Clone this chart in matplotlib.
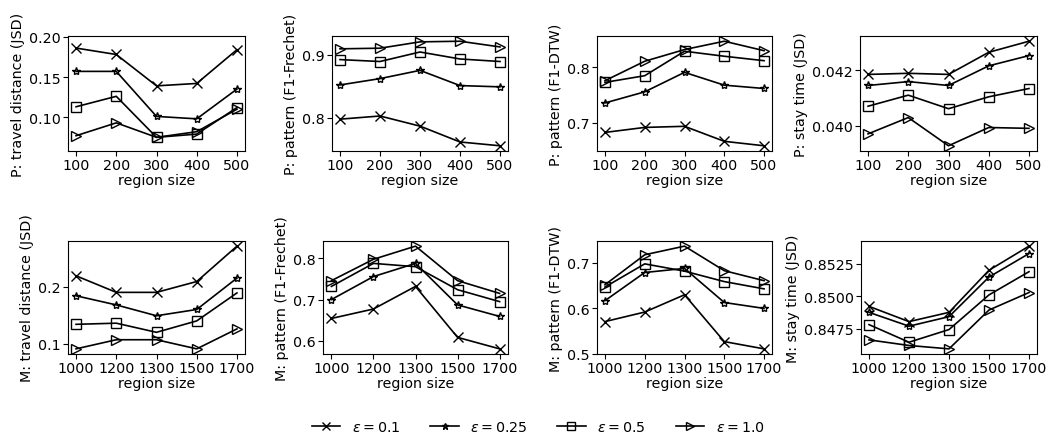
import matplotlib.pyplot as plt
from matplotlib.ticker import MultipleLocator

# region sizes
p_sizes = ['100', '200', '300', '400', '500']
m_sizes = ['1000', '1200', '1300', '1500', '1700']

eps_labels = [r'$\varepsilon = 0.1$', r'$\varepsilon = 0.25$', r'$\varepsilon = 0.5$', r'$\varepsilon = 1.0$']
markers = ['x', '*', 's', '>']

# P dataset (rows: eps 0.1, 0.25, 0.5, 1.0)
p_travel = [[0.186, 0.178, 0.139, 0.142, 0.184],
            [0.157, 0.157, 0.101, 0.098, 0.135],
            [0.113, 0.126, 0.075, 0.079, 0.112],
            [0.077, 0.093, 0.075, 0.082, 0.110]]
p_frechet = [[0.798, 0.803, 0.787, 0.762, 0.756],
             [0.852, 0.862, 0.875, 0.851, 0.849],
             [0.892, 0.889, 0.904, 0.893, 0.889],
             [0.909, 0.910, 0.920, 0.921, 0.912]]
p_dtw = [[0.683, 0.692, 0.694, 0.667, 0.659],
         [0.736, 0.756, 0.791, 0.768, 0.762],
         [0.773, 0.785, 0.829, 0.820, 0.812],
         [0.776, 0.811, 0.832, 0.847, 0.830]]
p_stay = [[0.04185, 0.04189, 0.04185, 0.04265, 0.04305],
          [0.04145, 0.04159, 0.04145, 0.04216, 0.04253],
          [0.04070, 0.04110, 0.04061, 0.04104, 0.04134],
          [0.03970, 0.04029, 0.03927, 0.03993, 0.03990]]

# M dataset
m_travel = [[0.219, 0.190, 0.190, 0.209, 0.271],
            [0.184, 0.168, 0.149, 0.160, 0.215],
            [0.134, 0.136, 0.120, 0.140, 0.189],
            [0.091, 0.107, 0.107, 0.091, 0.126]]
m_frechet = [[0.654, 0.677, 0.732, 0.608, 0.580],
             [0.700, 0.756, 0.788, 0.687, 0.659],
             [0.732, 0.788, 0.780, 0.724, 0.695],
             [0.746, 0.798, 0.830, 0.746, 0.715]]
m_dtw = [[0.571, 0.592, 0.630, 0.527, 0.511],
         [0.617, 0.679, 0.688, 0.613, 0.600],
         [0.647, 0.698, 0.682, 0.659, 0.643],
         [0.652, 0.718, 0.737, 0.683, 0.661]]
m_stay = [[0.84922, 0.84805, 0.84876, 0.85199, 0.85384],
          [0.84876, 0.84770, 0.84843, 0.85147, 0.85327],
          [0.84782, 0.84647, 0.84744, 0.85010, 0.85188],
          [0.84665, 0.84622, 0.84596, 0.84894, 0.85028]]

panels = [
    (p_sizes, p_travel, 'P: travel distance (JSD)'),
    (p_sizes, p_frechet, 'P: pattern (F1-Frechet)'),
    (p_sizes, p_dtw, 'P: pattern (F1-DTW)'),
    (p_sizes, p_stay, 'P: stay time (JSD)'),
    (m_sizes, m_travel, 'M: travel distance (JSD)'),
    (m_sizes, m_frechet, 'M: pattern (F1-Frechet)'),
    (m_sizes, m_dtw, 'M: pattern (F1-DTW)'),
    (m_sizes, m_stay, 'M: stay time (JSD)'),
]
ytick_steps = [0.05, 0.1, 0.1, 0.002, 0.1, 0.1, 0.1, 0.0025]

plt.rcParams['font.size'] = 10.3
plt.rcParams['xtick.labelsize'] = 10.3
plt.rcParams['ytick.labelsize'] = 10.3
plt.rcParams['xtick.major.pad'] = 1.5
plt.rcParams['ytick.major.pad'] = 1.5

W, H = 1047, 435
fig = plt.figure(figsize=(W / 100, H / 100), dpi=100)

lefts = [68, 332, 597, 860, 68, 323, 597, 861]
rights = [245, 508, 772, 1037, 245, 508, 772, 1037]
tops = [37] * 4 + [242] * 4
bottoms = [152] * 4 + [355] * 4

handles = []
for i, (sizes, series, ylabel) in enumerate(panels):
    ax = fig.add_axes([lefts[i] / W, 1 - bottoms[i] / H,
                       (rights[i] - lefts[i]) / W, (bottoms[i] - tops[i]) / H])
    pos = range(len(sizes))
    for j, vals in enumerate(series):
        ms = 6 if markers[j] == '*' else 7.5
        ln, = ax.plot(pos, vals, color='black', marker=markers[j], markersize=ms,
                      markerfacecolor='none', markeredgewidth=1, linewidth=1.2,
                      label=eps_labels[j])
        if i == 0:
            handles.append(ln)
    ax.set_xticks(list(pos))
    ax.set_xticklabels(sizes)
    ax.yaxis.set_major_locator(MultipleLocator(ytick_steps[i]))
    ax.set_xlabel('region size', labelpad=1)
    ax.set_ylabel(ylabel, labelpad=3)
    if i == 0:
        ax.set_ylim(0.058, 0.201)

fig.legend(handles=handles, loc='lower center', ncol=4, frameon=False,
           bbox_to_anchor=(0.514, -0.03), columnspacing=2.1, markerscale=0.8)

fig.savefig('out.png', dpi=100)
